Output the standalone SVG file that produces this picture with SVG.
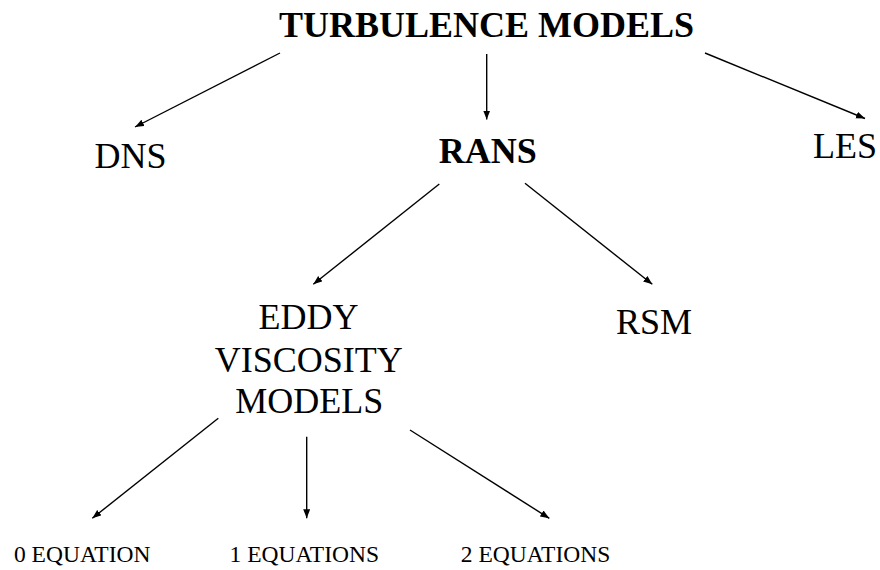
<svg xmlns="http://www.w3.org/2000/svg" width="880" height="570" viewBox="0 0 880 570">
  <style>
    .t { font-family: "Liberation Serif", "Times New Roman", serif; fill: #000; text-anchor: middle; }
    .big { font-size: 36px; }
    .bold { font-weight: bold; }
    .small { font-size: 23.5px; }
    .edge { stroke: #000; stroke-width: 1.4; fill: none; marker-end: url(#arrow); }
  </style>
  <defs>
    <marker id="arrow" markerUnits="userSpaceOnUse" markerWidth="10" markerHeight="8" refX="9" refY="3.5" orient="auto">
      <path d="M0,0 L9,3.5 L0,7 z" fill="#000"/>
    </marker>
  </defs>
  <rect width="880" height="570" fill="#fff"/>

  <g id="connectors">
    <line class="edge" x1="280" y1="53" x2="135" y2="127"/>
    <line class="edge" x1="486.7" y1="54" x2="486.7" y2="119.5"/>
    <line class="edge" x1="705" y1="53" x2="865" y2="118.5"/>
    <line class="edge" x1="439.3" y1="184" x2="313.3" y2="284.3"/>
    <line class="edge" x1="525" y1="183.3" x2="652.3" y2="284.3"/>
    <line class="edge" x1="218.3" y1="418.3" x2="92.3" y2="518.3"/>
    <line class="edge" x1="306.7" y1="436.7" x2="306.7" y2="518.3"/>
    <line class="edge" x1="410" y1="430" x2="549.3" y2="518.3"/>
  </g>

  <g id="turbulence-models">
    <text class="t big bold" x="486.5" y="37">TURBULENCE MODELS</text>
  </g>
  <g id="dns">
    <text class="t big" x="130.5" y="167.5">DNS</text>
  </g>
  <g id="rans">
    <text class="t big bold" x="487.7" y="163.3">RANS</text>
  </g>
  <g id="les">
    <text class="t big" x="845" y="158.3">LES</text>
  </g>
  <g id="eddy-viscosity-models">
    <text class="t big" x="308.5" y="329.3">EDDY</text>
    <text class="t big" x="308.8" y="371.5">VISCOSITY</text>
    <text class="t big" x="309.3" y="413.3">MODELS</text>
  </g>
  <g id="rsm">
    <text class="t big" x="654" y="334.3">RSM</text>
  </g>
  <g id="zero-equation">
    <text class="t small" x="82.2" y="561.7">0 EQUATION</text>
  </g>
  <g id="one-equation">
    <text class="t small" x="304.3" y="561.7">1 EQUATIONS</text>
  </g>
  <g id="two-equation">
    <text class="t small" x="535.5" y="561.7">2 EQUATIONS</text>
  </g>
</svg>
